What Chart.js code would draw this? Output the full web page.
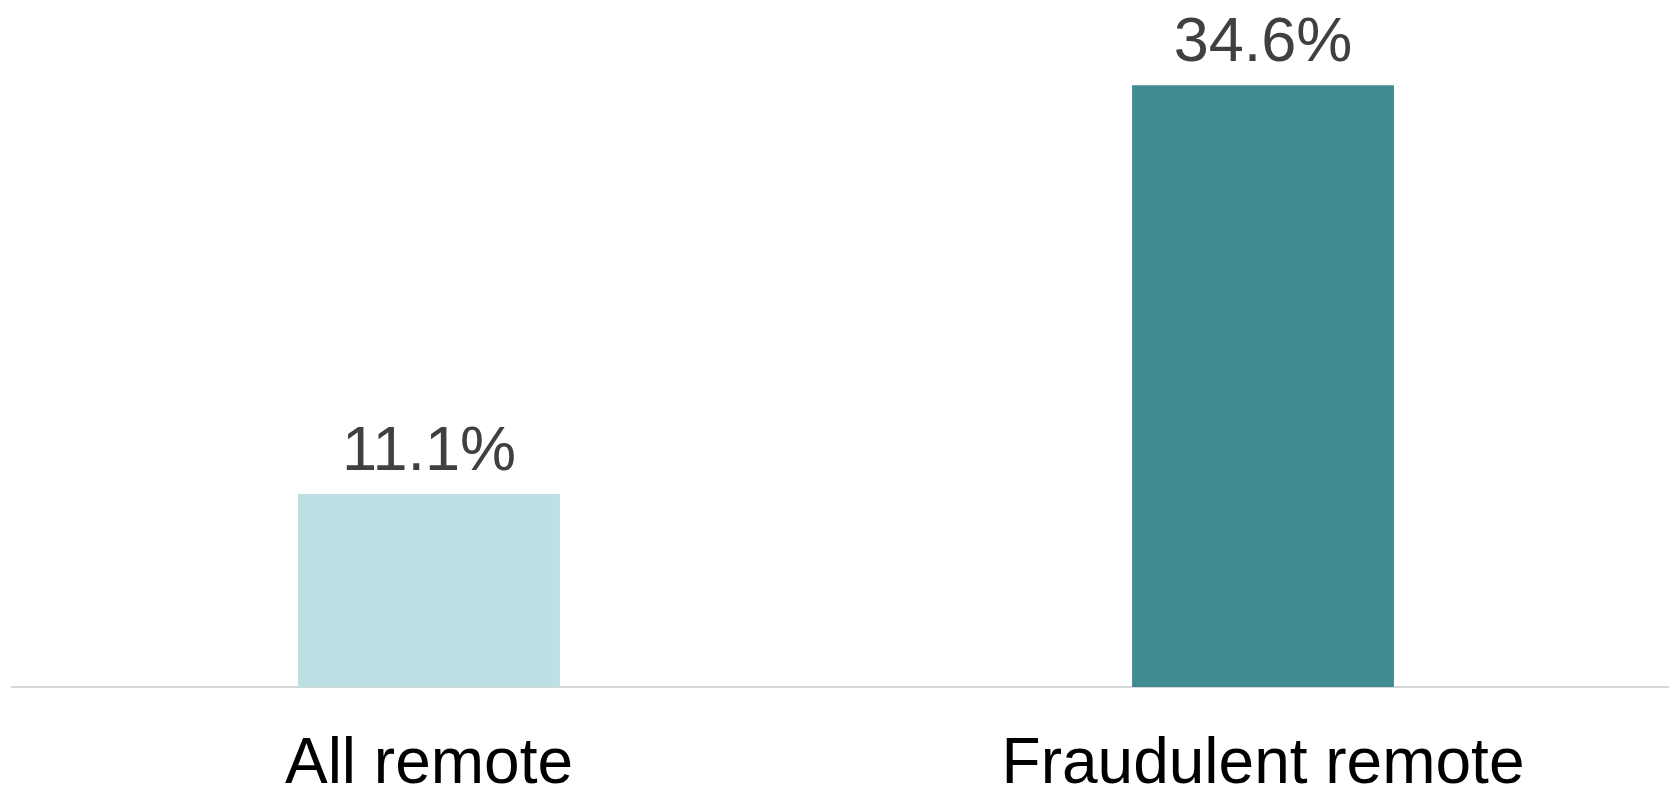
<!DOCTYPE html>
<html>
<head>
<meta charset="utf-8">
<script src="https://cdn.jsdelivr.net/npm/chart.js@4/dist/chart.umd.min.js"></script>
<style>
  html, body { margin: 0; padding: 0; background: #fff; overflow: hidden; }
  #wrap { width: 1680px; height: 787px; position: relative; }
</style>
</head>
<body>
<div id="wrap"><canvas id="c"></canvas></div>
<script>
const categories = ['All remote', 'Fraudulent remote'];
const shareValues = [11.1, 34.6];
const barColors = ['#bce0e3', '#3e8b91'];

const FONT = "'Liberation Sans', Arial, Helvetica, sans-serif";

// Percentage above each bar and category name under the axis line
const labelPlugin = {
  id: 'barLabels',
  afterDatasetsDraw(chart) {
    const ctx = chart.ctx;
    const meta = chart.getDatasetMeta(0);
    const xScale = chart.scales.x;
    ctx.save();
    ctx.textAlign = 'center';
    ctx.textBaseline = 'alphabetic';
    meta.data.forEach((bar, i) => {
      ctx.fillStyle = '#404040';
      ctx.font = '63px ' + FONT;
      ctx.fillText(shareValues[i].toFixed(1) + '%', bar.x, bar.y - 24);
      ctx.fillStyle = '#000000';
      ctx.font = '64px ' + FONT;
      ctx.fillText(categories[i], xScale.getPixelForValue(i), xScale.bottom + 96);
    });
    ctx.restore();
  }
};

new Chart(document.getElementById('c'), {
  type: 'bar',
  data: {
    labels: categories,
    datasets: [{
      data: shareValues,
      backgroundColor: barColors,
      borderWidth: 0,
      barPercentage: 1,
      categoryPercentage: 0.314
    }]
  },
  options: {
    responsive: true,
    maintainAspectRatio: false,
    animation: false,
    layout: { padding: { left: 12, right: 0, top: 0, bottom: 100 } },
    plugins: { legend: { display: false }, tooltip: { enabled: false } },
    scales: {
      x: {
        grid: { display: false, drawTicks: false },
        border: { display: true, color: '#d6d6d6', width: 2 },
        ticks: { display: false }
      },
      y: {
        display: false,
        min: 0,
        max: 39.5
      }
    }
  },
  plugins: [labelPlugin]
});
</script>
</body>
</html>
